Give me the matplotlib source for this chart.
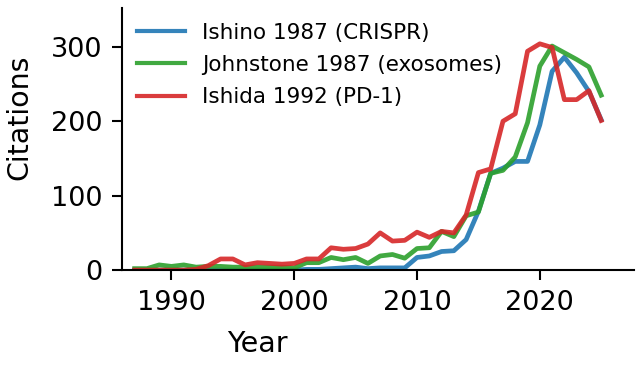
import matplotlib
matplotlib.use("Agg")
import matplotlib.pyplot as plt

# Citações por ano
anos = list(range(1987, 2026))

ishino = [0, 0, 0, 0, 0, 0, 0, 0, 0, 0, 0, 0, 0, 0, 1, 1, 2, 3, 4, 2, 3, 3, 3,
          17, 19, 25, 26, 41, 79, 130, 137, 146, 146, 195, 267, 286, 265, 240, 202]
johnstone = [2, 2, 7, 5, 7, 4, 5, 5, 4, 4, 4, 4, 4, 3, 10, 10, 17, 14, 17, 9,
             19, 21, 16, 29, 30, 52, 45, 73, 78, 130, 134, 152, 198, 274, 301,
             292, 283, 273, 235]
ishida = [0, 0, 0, 0, 0, 1, 6, 15, 15, 7, 10, 9, 8, 9, 15, 15, 30, 28, 29, 35,
          50, 39, 40, 51, 44, 52, 50, 74, 131, 136, 200, 210, 294, 304, 299,
          229, 229, 241, 201]

series = [
    ("Ishino 1987 (CRISPR)", ishino, "tab:blue"),
    ("Johnstone 1987 (exosomes)", johnstone, "tab:green"),
    ("Ishida 1992 (PD-1)", ishida, "tab:red"),
]

fig = plt.figure(figsize=(6.44, 3.67), dpi=100)
ax = fig.add_axes([0.190, 0.264, 0.795, 0.714])

for nome, valores, cor in series:
    ax.plot(anos, valores, color=cor, lw=3.4, alpha=0.9, label=nome)

ax.set_xlim(1986.0, 2027.7)
ax.set_ylim(0, 352)
ax.set_xticks([1990, 2000, 2010, 2020])
ax.set_yticks([0, 100, 200, 300])

for lado in ["top", "right"]:
    ax.spines[lado].set_visible(False)
for lado in ["left", "bottom"]:
    ax.spines[lado].set_linewidth(1.5)

ax.tick_params(labelsize=19.5, length=7.2, width=1.5, pad=7)
ax.set_xlabel("Year", fontsize=20.5)
ax.set_ylabel("Citations", fontsize=20.5)
# rótulos deslocados como na referência
ax.xaxis.set_label_coords(0.263, -0.227)
ax.yaxis.set_label_coords(-0.173, 0.582)

leg = ax.legend(loc="upper left", frameon=False, fontsize=15.5,
                handlelength=2.2, handletextpad=0.8, labelspacing=0.57,
                borderaxespad=0.3, bbox_to_anchor=(0.0, 1.002))
for linha in leg.get_lines():
    linha.set_linewidth(3)

fig.savefig("out.png", dpi=100)
